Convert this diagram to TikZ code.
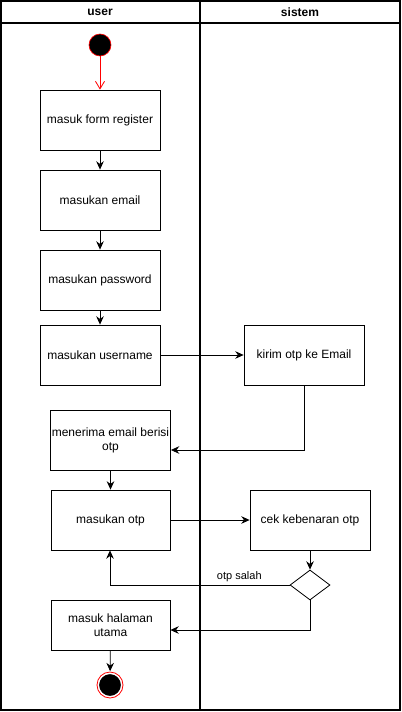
\documentclass[tikz,border=0pt]{standalone}
\usepackage{fontspec}
\setmainfont{Liberation Sans}
\usetikzlibrary{shapes.geometric,arrows.meta}

\tikzset{
  lane line/.style={line width=0.8pt},
  activity/.style={draw,fill=white,line width=0.6pt,minimum width=120*0.75pt,
    minimum height=60*0.75pt,inner sep=1pt,align=center,font=\fontsize{9}{10.5}\selectfont},
  flow/.style={-{Stealth[length=2.2mm,width=2mm]},line width=0.6pt},
  decision/.style={diamond,draw,fill=white,line width=0.6pt,minimum width=40*0.75pt,
    minimum height=30*0.75pt,inner sep=0pt,aspect=1.33},
  start state/.style={circle,fill=black,draw=red,line width=0.5pt,minimum size=22*0.75pt,inner sep=0pt},
  end state/.style={circle,fill=black,draw=white,line width=1.2pt,double=red,double distance=0.6pt,
    minimum size=26*0.75pt,inner sep=0pt}
}

\begin{document}
\begin{tikzpicture}[x=0.75pt,y=-0.75pt]
      \useasboundingbox (0,0) rectangle (402,712);
      % swimlanes
      \draw[lane line] (1,1) rectangle (400,710);
      \draw[lane line] (1,23) -- (400,23);
      \draw[lane line] (200,1) -- (200,710);
      \node[font=\fontsize{9}{10.5}\selectfont\bfseries] (user) at (100,12) {user};
      \node[font=\fontsize{9}{10.5}\selectfont\bfseries] (sistem) at (300,12) {sistem};
      % user lane
      \node[start state] (start) at (100,45) {};
      \node[activity] (form) at (100,120) {masuk form register};
      \node[activity] (email) at (100,200) {masukan email};
      \node[activity] (pass) at (100,280) {masukan password};
      \node[activity] (uname) at (100,355) {masukan username};
      \node[activity,minimum width=119*0.75pt] (terima) at (110.5,440) {menerima email berisi\\otp};
      \node[activity,minimum width=119*0.75pt] (otp) at (110.5,520) {masukan otp};
      \node[activity,minimum width=119*0.75pt,minimum height=50*0.75pt] (utama) at (110.5,625) {masuk halaman\\utama};
      \node[end state] (end) at (110,685) {};
      % sistem lane
      \node[activity] (kirim) at (304,355) {kirim otp ke Email};
      \node[activity] (cek) at (310,520) {cek kebenaran otp};
      \node[decision] (cabang) at (310,585) {};
      % connectors
      \draw[-{Straight Barb[length=2mm,width=2.4mm]},red,line width=0.6pt] (start) -- (form);
      \draw[flow] (form) -- (email);
      \draw[flow] (email) -- (pass);
      \draw[flow] (pass) -- (uname);
      \draw[flow] (uname) -- (kirim);
      \draw[flow] (kirim.south) |- (terima.east |- 0,450);
      \draw[flow] (terima) -- (otp);
      \draw[flow] (otp) -- (cek);
      \draw[flow] (cek) -- (cabang);
      \draw[flow] (cabang.west) -| (otp.south -| 110,0)
        node[pos=0.14,above,yshift=-1pt,font=\fontsize{8.25}{9.5}\selectfont] {otp salah};
      \draw[flow] (cabang.south) |- (utama.east |- 0,630);
      \draw[flow] (utama) -- (end);
    \end{tikzpicture}
\end{document}
